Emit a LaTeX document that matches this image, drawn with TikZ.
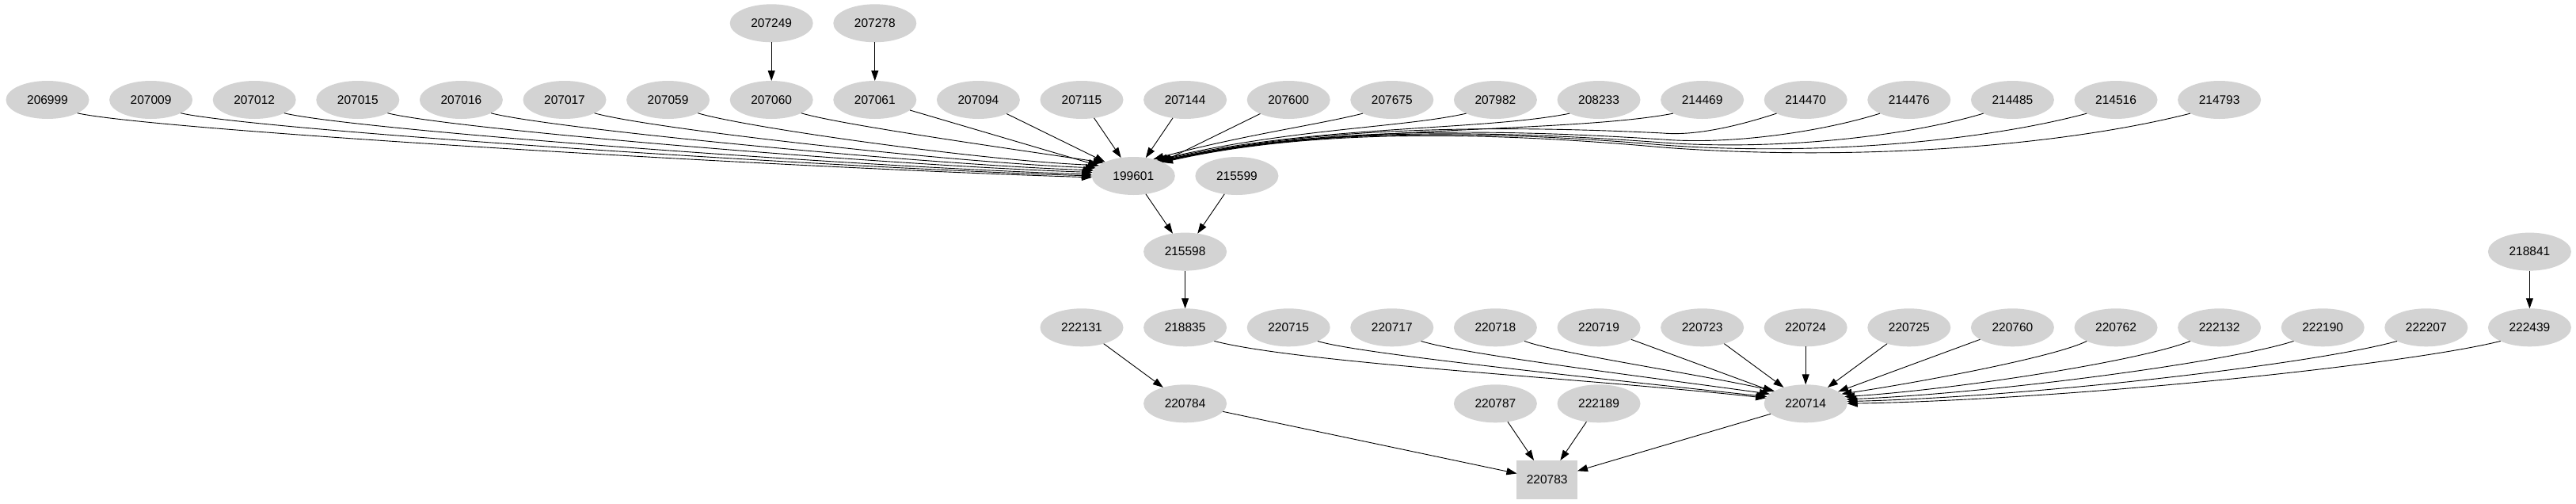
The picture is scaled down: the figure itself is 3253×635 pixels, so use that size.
\documentclass[tikz,border=0pt]{standalone}
\usepackage{fontspec}
\setmainfont{Liberation Sans}
\usetikzlibrary{shapes.geometric,arrows.meta}
\definecolor{ndgray}{RGB}{211,211,211}
\begin{document}
\begin{tikzpicture}[x=1pt,y=-1pt,
  nd/.style={ellipse, fill=ndgray, minimum width=105pt, minimum height=48pt, inner sep=0pt, outer sep=0pt, font=\fontsize{15.5}{18}\selectfont},
  boxnd/.style={rectangle, fill=ndgray, minimum width=76.5pt, minimum height=49pt, inner sep=0pt, outer sep=0pt, font=\fontsize{15.5}{18}\selectfont},
  edge/.style={-{Triangle[length=13pt,width=9pt]}, line width=0.9pt, black}]
\useasboundingbox (0,0) rectangle (3253,635);
% row 0
\node[nd] (n207249) at (974.2,29.3) {207249};
\node[nd] (n207278) at (1104.8,29.3) {207278};
% row 1
\node[nd] (n206999) at (60,126) {206999};
\node[nd] (n207009) at (190.6,126) {207009};
\node[nd] (n207012) at (321.2,126) {207012};
\node[nd] (n207015) at (451.8,126) {207015};
\node[nd] (n207016) at (582.4,126) {207016};
\node[nd] (n207017) at (713,126) {207017};
\node[nd] (n207059) at (843.6,126) {207059};
\node[nd] (n207060) at (974.2,126) {207060};
\node[nd] (n207061) at (1104.8,126) {207061};
\node[nd] (n207094) at (1235.4,126) {207094};
\node[nd] (n207115) at (1366,126) {207115};
\node[nd] (n207144) at (1496.6,126) {207144};
\node[nd] (n207600) at (1627.2,126) {207600};
\node[nd] (n207675) at (1757.8,126) {207675};
\node[nd] (n207982) at (1888.4,126) {207982};
\node[nd] (n208233) at (2019,126) {208233};
\node[nd] (n214469) at (2149.6,126) {214469};
\node[nd] (n214470) at (2280.2,126) {214470};
\node[nd] (n214476) at (2410.8,126) {214476};
\node[nd] (n214485) at (2541.4,126) {214485};
\node[nd] (n214516) at (2672,126) {214516};
\node[nd] (n214793) at (2802.6,126) {214793};
% row 2
\node[nd] (n199601) at (1431.3,222) {199601};
\node[nd] (n215599) at (1561.9,222) {215599};
% row 3
\node[nd] (n215598) at (1496.6,317.6) {215598};
\node[nd] (n218841) at (3194.4,317.6) {218841};
% row 4
\node[nd] (n222131) at (1366,413.3) {222131};
\node[nd] (n218835) at (1496.6,413.3) {218835};
\node[nd] (n220715) at (1627.2,413.3) {220715};
\node[nd] (n220717) at (1757.8,413.3) {220717};
\node[nd] (n220718) at (1888.4,413.3) {220718};
\node[nd] (n220719) at (2019,413.3) {220719};
\node[nd] (n220723) at (2149.6,413.3) {220723};
\node[nd] (n220724) at (2280.2,413.3) {220724};
\node[nd] (n220725) at (2410.8,413.3) {220725};
\node[nd] (n220760) at (2541.4,413.3) {220760};
\node[nd] (n220762) at (2672,413.3) {220762};
\node[nd] (n222132) at (2802.6,413.3) {222132};
\node[nd] (n222190) at (2933.2,413.3) {222190};
\node[nd] (n222207) at (3063.8,413.3) {222207};
\node[nd] (n222439) at (3194.4,413.3) {222439};
% row 5
\node[nd] (n220784) at (1496.6,509.3) {220784};
\node[nd] (n220787) at (1888.4,509.3) {220787};
\node[nd] (n222189) at (2019,509.3) {222189};
\node[nd] (n220714) at (2280.2,509.3) {220714};
% row 6
\node[boxnd] (n220783) at (1953.7,605.5) {220783};

% top edges
\draw[edge] (n207249) -- (n207060);
\draw[edge] (n207278) -- (n207061);
% left edges into 199601
\draw[edge] (n206999.-24) .. controls +(100,22) and +(-384,-12) .. (n199601.182);
\draw[edge] (n207009.-24) .. controls +(93,21) and +(-345,-11) .. (n199601.180);
\draw[edge] (n207012.-24) .. controls +(87,21) and +(-306,-10) .. (n199601.178);
\draw[edge] (n207015.-24) .. controls +(80,20) and +(-266,-9) .. (n199601.175);
\draw[edge] (n207016.-24) .. controls +(73,19) and +(-227,-8) .. (n199601.172);
\draw[edge] (n207017.-24) .. controls +(67,19) and +(-188,-7) .. (n199601.168);
\draw[edge] (n207059.-24) .. controls +(60,18) and +(-149,-6) .. (n199601.163);
\draw[edge] (n207060.-24) .. controls +(50,15) and +(-100,-15) .. (n199601.156);
\draw[edge] (n207061) -- (n199601);
\draw[edge] (n207094) -- (n199601);
\draw[edge] (n207115) -- (n199601);
\draw[edge] (n207144) -- (n199601);
\draw[edge] (n207600) -- (n199601);
% right edges into 199601
\draw[edge] (n207675.205) .. controls +(-60,15) and +(110,-30) .. (n199601.40);
\draw[edge] (n207982.205) .. controls +(-80,18) and +(170,-40) .. (n199601.34);
\draw[edge] (n208233.205) .. controls +(-110,22) and +(200,-45) .. (n199601.32);
\draw[edge] (n214469.205) .. controls +(-130,25) and +(210,-45) .. (n199601.30);
\draw[edge] (n214470.205) .. controls +(-40,13) and +(45,4) .. (2100,168) .. controls +(-200,-10) and +(200,-45) .. (n199601.29);
\draw[edge] (n214476.205) .. controls +(-70,22) and +(90,7) .. (2100,176) .. controls +(-200,-13) and +(200,-45) .. (n199601.28);
\draw[edge] (n214485.205) .. controls +(-100,30) and +(140,10) .. (2100,180) .. controls +(-200,-15) and +(200,-45) .. (n199601.27);
\draw[edge] (n214516.205) .. controls +(-135,36) and +(190,14) .. (2100,183) .. controls +(-200,-17) and +(200,-45) .. (n199601.26);
\draw[edge] (n214793.205) .. controls +(-165,42) and +(240,18) .. (2100,186) .. controls +(-200,-18) and +(200,-45) .. (n199601.25);
% middle
\draw[edge] (n199601) -- (n215598);
\draw[edge] (n215599) -- (n215598);
\draw[edge] (n215598) -- (n218835);
\draw[edge] (n222131) -- (n220784);
\draw[edge] (n218841) -- (n222439);
% into 220714
\draw[edge] (n218835.-25) .. controls +(110,28) and +(-230,-25) .. (n220714.172);
\draw[edge] (n220715.-25) .. controls +(50,16) and +(-200,-22) .. (n220714.170);
\draw[edge] (n220717.-25) .. controls +(50,16) and +(-160,-22) .. (n220714.165);
\draw[edge] (n220718.-25) .. controls +(40,15) and +(-100,-22) .. (n220714.158);
\draw[edge] (n220719) -- (n220714);
\draw[edge] (n220723) -- (n220714);
\draw[edge] (n220724) -- (n220714);
\draw[edge] (n220725) -- (n220714);
\draw[edge] (n220760) -- (n220714);
\draw[edge] (n220762.205) .. controls +(-40,20) and +(100,-15) .. (n220714.15);
\draw[edge] (n222132.205) .. controls +(-60,24) and +(150,-10) .. (n220714.10);
\draw[edge] (n222190.205) .. controls +(-80,26) and +(190,-8) .. (n220714.6);
\draw[edge] (n222207.205) .. controls +(-100,28) and +(240,-6) .. (n220714.3);
\draw[edge] (n222439.205) .. controls +(-120,30) and +(280,-5) .. (n220714.0);
% into 220783
\draw[edge] (n220784) -- (n220783);
\draw[edge] (n220787) -- (n220783);
\draw[edge] (n222189) -- (n220783);
\draw[edge] (n220714) -- (n220783);
\end{tikzpicture}
\end{document}
